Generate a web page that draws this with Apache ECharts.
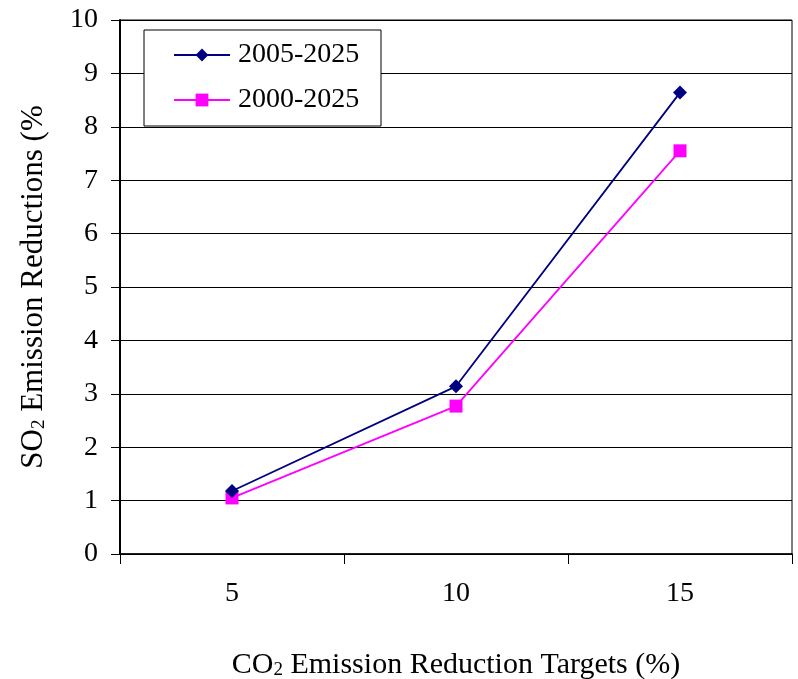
<!DOCTYPE html>
<html><head><meta charset="utf-8">
<script src="https://cdn.jsdelivr.net/npm/echarts@6/dist/echarts.min.js"></script>
<style>html,body{margin:0;padding:0;background:#fff}#c{width:798px;height:679px}</style>
</head><body><div id="c"></div>
<script>
const categories = ['5', '10', '15'];
const series2005 = [1.18, 3.14, 8.64];
const series2000 = [1.05, 2.77, 7.55];
const seriesNames = ['2005-2025', '2000-2025'];
const yTicks = [0, 1, 2, 3, 4, 5, 6, 7, 8, 9, 10];

const F = '"Liberation Serif", "Times New Roman", serif';
const chart = echarts.init(document.getElementById('c'));
chart.setOption({
  animation: false,
  backgroundColor: '#fff',
  grid: { left: 120, right: 6, top: 20, bottom: 125, show: true, borderColor: '#000', borderWidth: 1,
          containLabel: false, outerBoundsMode: 'none' },
  graphic: [{
    type: 'rect', shape: { x: 144, y: 30, width: 237, height: 96 },
    style: { fill: '#fff', stroke: '#000', lineWidth: 1 }, z: 10
  }],
  legend: {
    left: 173, top: 41, orient: 'vertical', itemGap: 17, padding: 0, z: 20,
    itemWidth: 56, itemHeight: 16,
    textStyle: { fontFamily: F, fontSize: 28, color: '#000', padding: [0, 0, 0, 3] },
    data: seriesNames
  },
  xAxis: {
    type: 'category', data: categories, boundaryGap: true,
    axisLine: { lineStyle: { color: '#000', width: 1.5 } },
    axisTick: { show: true, inside: false, length: 10, alignWithLabel: false, lineStyle: { color: '#000' } },
    axisLabel: { fontFamily: F, fontSize: 28, color: '#000', margin: 26 },
    name: '{a|CO}{s|2}{a| Emission Reduction Targets (%)}',
    nameLocation: 'middle', nameGap: 96,
    nameTextStyle: { rich: {
      a: { fontFamily: F, fontSize: 30, color: '#000' },
      s: { fontFamily: F, fontSize: 19, color: '#000', verticalAlign: 'bottom', padding: [10, 0, 0, 0] }
    } }
  },
  yAxis: {
    type: 'value', min: 0, max: 10, interval: 1,
    axisLine: { show: true, lineStyle: { color: '#000', width: 2 } },
    axisTick: { show: true, inside: false, length: 9, lineStyle: { color: '#000' } },
    splitLine: { show: true, lineStyle: { color: '#000', width: 1 } },
    axisLabel: { fontFamily: F, fontSize: 28, color: '#000', margin: 22,
      formatter: v => yTicks.includes(v) ? String(v) : '' },
    name: '{a|SO}{s|2}{a| Emission Reductions (%}',
    nameLocation: 'middle', nameGap: 71, nameRotate: 90,
    nameTextStyle: { rich: {
      a: { fontFamily: F, fontSize: 31, color: '#000' },
      s: { fontFamily: F, fontSize: 19, color: '#000', verticalAlign: 'bottom', padding: [10, 0, 0, 0] }
    } }
  },
  series: [
    { name: seriesNames[0], type: 'line', data: series2005, symbol: 'diamond', symbolSize: 14,
      lineStyle: { color: '#000080', width: 1.8 }, itemStyle: { color: '#000080' }, z: 3 },
    { name: seriesNames[1], type: 'line', data: series2000, symbol: 'rect', symbolSize: 13,
      lineStyle: { color: '#FF00FF', width: 1.8 }, itemStyle: { color: '#FF00FF' }, z: 2 }
  ]
});
</script></body></html>
